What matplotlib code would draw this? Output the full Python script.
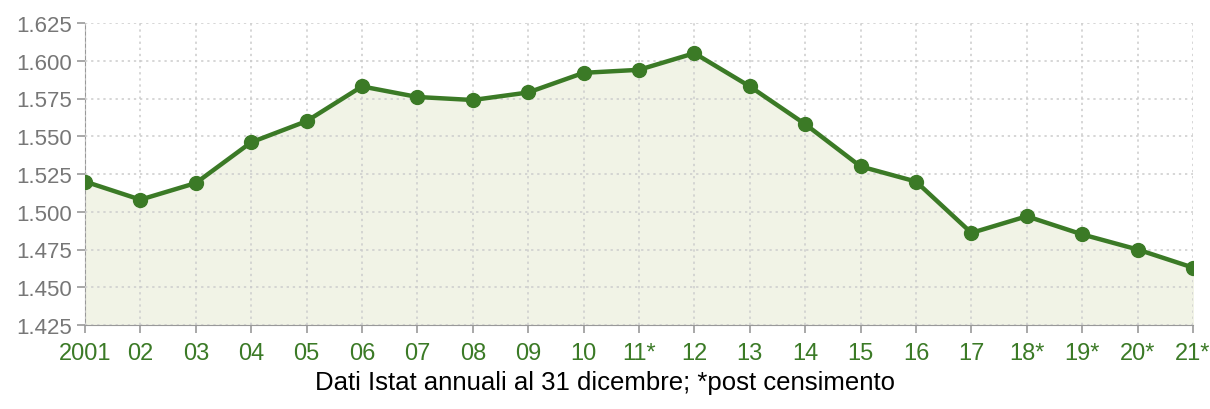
import numpy as np
import matplotlib.pyplot as plt

# Dati
anni = ['2001', '02', '03', '04', '05', '06', '07', '08', '09', '10', '11*',
        '12', '13', '14', '15', '16', '17', '18*', '19*', '20*', '21*']
valori = [1520, 1508, 1519, 1546, 1560, 1583, 1576, 1574, 1579, 1592, 1594,
          1605, 1583, 1558, 1530, 1520, 1486, 1497, 1485, 1475, 1463]
yticks = [1425, 1450, 1475, 1500, 1525, 1550, 1575, 1600, 1625]
ylabels = ['1.425', '1.450', '1.475', '1.500', '1.525', '1.550', '1.575', '1.600', '1.625']

verde = '#3b7a26'
plt.rcParams['font.family'] = ['Liberation Sans', 'DejaVu Sans']

fig = plt.figure(figsize=(12.1, 4.1), dpi=100)
ax = fig.add_axes([85/1210, 1 - 326/410, (1193-85)/1210, (326-24)/410])

x = np.arange(len(anni))
ax.fill_between(x, valori, 1425, color='#f1f3e6', zorder=1)
ax.plot(x, valori, color=verde, lw=3.2, marker='o', ms=10, zorder=3)

ax.set_xlim(0, len(anni) - 1)
ax.set_ylim(1425, 1625)
ax.set_xticks(x)
ax.set_xticklabels(anni, fontsize=17)
ax.set_yticks(yticks)
ax.set_yticklabels(ylabels, fontsize=16)
ax.grid(True, color='#cccccc', linestyle=(0, (1.5, 2.5)), lw=1.1)
ax.set_axisbelow(False)
for s in ['top', 'right']:
    ax.spines[s].set_visible(False)
ax.spines['left'].set_color('#999999')
ax.spines['bottom'].set_color('#999999')
ax.tick_params(axis='both', colors='#999999', length=6, width=1.2)
ax.tick_params(axis='x', labelcolor=verde, pad=6)
ax.tick_params(axis='y', labelcolor='#777777', pad=3)

fig.text(0.5, 1 - 383/410, 'Dati Istat annuali al 31 dicembre; *post censimento',
         ha='center', va='center', fontsize=18.5, color='black')

fig.savefig('out.png', dpi=100)
